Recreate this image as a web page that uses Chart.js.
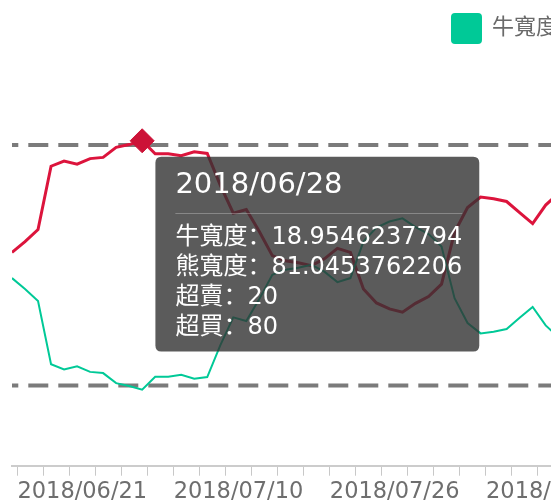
<!DOCTYPE html>
<html>
<head>
<meta charset="utf-8">
<script src="https://cdn.jsdelivr.net/npm/chart.js@4.4.1/dist/chart.umd.min.js"></script>
<style>
  html, body { margin: 0; padding: 0; overflow: hidden; background: #fff; }
</style>
</head>
<body>
<canvas id="chart-breadth" width="1114" height="509"></canvas>
<script>
// trading days shown on the x axis
const dates = [
  '2018/06/13', '2018/06/14', '2018/06/15', '2018/06/19', '2018/06/20', '2018/06/21',
  '2018/06/22', '2018/06/25', '2018/06/26', '2018/06/27', '2018/06/28', '2018/06/29',
  '2018/07/02', '2018/07/03', '2018/07/04', '2018/07/05', '2018/07/09', '2018/07/10',
  '2018/07/11', '2018/07/12', '2018/07/13', '2018/07/16', '2018/07/17', '2018/07/18',
  '2018/07/19', '2018/07/20', '2018/07/23', '2018/07/24', '2018/07/25', '2018/07/26',
  '2018/07/27', '2018/07/30', '2018/07/31', '2018/08/01', '2018/08/02', '2018/08/03',
  '2018/08/06', '2018/08/07', '2018/08/08', '2018/08/09', '2018/08/10', '2018/08/13',
  '2018/08/14'
];

const bullWidth = [
  46.8, 44.1, 41.1, 25.3, 24.0, 24.8, 23.4, 23.1, 20.6, 19.9, 18.9546237794,
  22.2, 22.2, 22.7, 21.7, 22.1, 30.0, 37.0, 36.1, 41.6, 47.6, 48.9, 49.4,
  50.1, 48.4, 45.8, 46.8, 55.9, 59.4, 60.9, 61.7, 59.5, 57.8, 54.7, 41.8,
  35.6, 33.0, 33.4, 34.1, 36.9, 39.6, 35.0, 32.0
];

const bearWidth = [
  53.2, 55.9, 58.9, 74.7, 76.0, 75.2, 76.6, 76.9, 79.4, 80.1, 81.0453762206,
  77.8, 77.8, 77.3, 78.3, 77.9, 70.0, 63.0, 63.9, 58.4, 52.4, 51.1, 50.6,
  49.9, 51.6, 54.2, 53.2, 44.1, 40.6, 39.1, 38.3, 40.5, 42.2, 45.3, 58.2,
  64.4, 67.0, 66.6, 65.9, 63.1, 60.4, 65.0, 68.0
];

const overSold = [
  20, 20, 20, 20, 20, 20, 20, 20, 20, 20, 20, 20, 20, 20, 20, 20, 20, 20, 20, 20, 20, 20,
  20, 20, 20, 20, 20, 20, 20, 20, 20, 20, 20, 20, 20, 20, 20, 20, 20, 20, 20, 20, 20
];

const overBought = [
  80, 80, 80, 80, 80, 80, 80, 80, 80, 80, 80, 80, 80, 80, 80, 80, 80, 80, 80, 80, 80, 80,
  80, 80, 80, 80, 80, 80, 80, 80, 80, 80, 80, 80, 80, 80, 80, 80, 80, 80, 80, 80, 80
];

const seriesNames = ['牛寬度', '熊寬度', '超賣', '超買'];
const hoverDate = '2018/06/28';

const FONT = "'DejaVu Sans', 'Noto Sans CJK SC', sans-serif";
const GREEN = '#00c997';
const RED = '#dc143c';
const DASH = '#7b7b7b';

const STEP = 13.04;          // px per trading day
const AXIS_SHIFT = 0.4;      // axis ticks sit a bit right of the points
const TT_PAD = { top: 11, bottom: 9, left: 20, right: 17 };
const TITLE_SIZE = 29;
const TITLE_GAP = 20;

const pts = arr => arr.map((y, i) => ({ x: i, y }));
const peakIndex = bearWidth.indexOf(Math.max(...bearWidth));
const hoverIndex = dates.indexOf(hoverDate);

// tick marks every 2 days, a date label every 12 days
function axisTicks() {
  const out = [];
  for (let i = 0; i <= dates.length; i += 2) out.push({ value: i + AXIS_SHIFT, dateTick: false });
  for (let i = 5; i < dates.length; i += 12) out.push({ value: i + AXIS_SHIFT, dateTick: true, day: i });
  return out.sort((a, b) => a.value - b.value);
}

Chart.Tooltip.positioners.besidePeak = function(items) {
  if (!items.length) return false;
  const el = (items.find(it => it.datasetIndex === 1) || items[0]).element;
  return { x: el.x + 13 + 6, y: el.y + 16 };
};

const tooltipRule = {
  id: 'tooltipRule',
  afterTooltipDraw(chart, args) {
    const tt = args.tooltip;
    if (!tt.opacity) return;
    const ctx = chart.ctx;
    const y = Math.round(tt.y + TT_PAD.top + TITLE_SIZE * 1.2 + TITLE_GAP / 2) + 0.5;
    ctx.save();
    ctx.strokeStyle = 'rgba(255,255,255,0.28)';
    ctx.lineWidth = 1;
    ctx.beginPath();
    ctx.moveTo(tt.x + TT_PAD.left, y);
    ctx.lineTo(tt.x + tt.width - TT_PAD.right, y);
    ctx.stroke();
    ctx.restore();
  }
};

const canvas = document.getElementById('chart-breadth');
const chartWidth = canvas.width;

const theChart = new Chart(canvas, {
  type: 'line',
  data: {
    datasets: [
      {
        label: seriesNames[0],
        data: pts(bullWidth),
        borderColor: GREEN,
        backgroundColor: GREEN,
        borderWidth: 2,
        pointRadius: 0,
        pointHoverRadius: 0
      },
      {
        label: seriesNames[1],
        data: pts(bearWidth),
        borderColor: RED,
        backgroundColor: RED,
        borderWidth: 3,
        pointStyle: 'rectRot',
        pointRadius: ctx => ctx.dataIndex === peakIndex ? 12 : 0,
        pointHoverRadius: ctx => ctx.dataIndex === peakIndex ? 12 : 0,
        pointBackgroundColor: '#cc1237',
        pointBorderColor: '#cc1237',
        pointBorderWidth: 1
      },
      {
        label: seriesNames[2],
        data: pts(overSold),
        borderColor: DASH,
        backgroundColor: DASH,
        borderWidth: 4,
        borderDash: [20, 10],
        borderDashOffset: 13.7,
        pointRadius: 0,
        pointHoverRadius: 0
      },
      {
        label: seriesNames[3],
        data: pts(overBought),
        borderColor: DASH,
        backgroundColor: DASH,
        borderWidth: 4,
        borderDash: [20, 10],
        borderDashOffset: 13.7,
        pointRadius: 0,
        pointHoverRadius: 0
      }
    ]
  },
  options: {
    responsive: false,
    animation: false,
    events: [],
    layout: { padding: { left: 12, top: 4, right: 0, bottom: 0 } },
    scales: {
      x: {
        type: 'linear',
        min: 0,
        max: (chartWidth - 12) / STEP,
        afterBuildTicks: scale => { scale.ticks = axisTicks(); },
        grid: {
          drawOnChartArea: false,
          drawTicks: true,
          tickLength: 10,
          tickWidth: 1,
          tickColor: ctx => (ctx.tick && ctx.tick.dateTick) ? 'rgba(0,0,0,0)' : '#c8c8c8'
        },
        border: { display: true, color: '#cccccc', width: 2 },
        ticks: {
          autoSkip: false,
          maxRotation: 0,
          minRotation: 0,
          padding: 2,
          color: '#6e6e6e',
          font: { family: FONT, size: 22.5, lineHeight: 1.302 },
          callback: (value, index, ticks) => ticks[index].dateTick ? dates[ticks[index].day] : ''
        }
      },
      y: {
        display: false,
        min: 0,
        max: 102.94
      }
    },
    plugins: {
      legend: {
        position: 'top',
        align: 'center',
        labels: {
          filter: item => item.datasetIndex < 2,
          boxWidth: 29,
          boxHeight: 29,
          padding: 10,
          color: '#6a6a6a',
          useBorderRadius: true,
          borderRadius: 3,
          font: { family: FONT, size: 22 }
        }
      },
      tooltip: {
        enabled: true,
        mode: 'index',
        intersect: false,
        position: 'besidePeak',
        xAlign: 'left',
        yAlign: 'top',
        caretSize: 0,
        caretPadding: 0,
        cornerRadius: 6,
        backgroundColor: 'rgba(50,50,50,0.8)',
        padding: TT_PAD,
        displayColors: false,
        titleColor: '#fff',
        titleFont: { family: FONT, size: TITLE_SIZE, weight: 'normal', lineHeight: 1.2 },
        titleMarginBottom: TITLE_GAP,
        bodyColor: '#fff',
        bodyFont: { family: FONT, size: 24, lineHeight: 1.25 },
        bodySpacing: 0,
        callbacks: {
          title: items => dates[items[0].dataIndex],
          label: ctx => ctx.dataset.label + '：' + ctx.parsed.y
        }
      }
    }
  },
  plugins: [tooltipRule]
});

theChart.tooltip.setActiveElements(
  [0, 1, 2, 3].map(ds => ({ datasetIndex: ds, index: hoverIndex })),
  { x: 0, y: 0 }
);
theChart.update();
</script>
</body>
</html>
